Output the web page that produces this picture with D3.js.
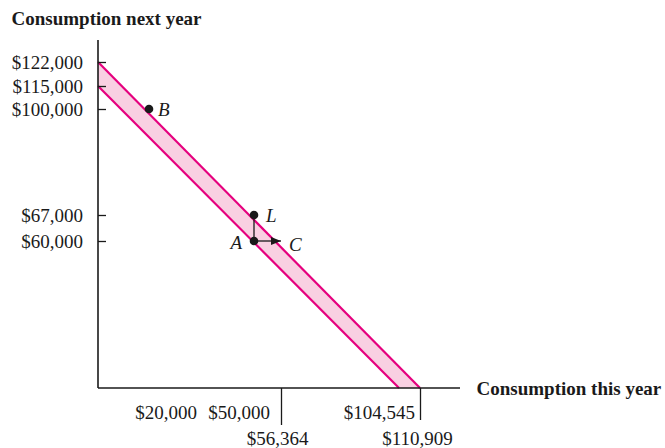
<!DOCTYPE html>
<html><head><meta charset="utf-8">
<script src="https://cdn.jsdelivr.net/npm/d3@7"></script>
<style>
body{margin:0;background:#fff}
text{font-family:"Liberation Serif","Times New Roman",serif;fill:#1a1a1a}
</style>
</head><body><svg id="c" width="665" height="448"></svg>
<script>
// ---- data ----
const xTicks = [20000, 50000, 56364, 104545, 110909];
const yTicks = [60000, 67000, 100000, 115000, 122000];
const upperLine = [[0, 122000], [110909, 0]];
const lowerLine = [[0, 115000], [104545, 0]];
const points = [
  {name: "B", x: 20000, y: 100000},
  {name: "L", x: 50000, y: 67000},
  {name: "A", x: 50000, y: 60000}
];
const arrowC = {name: "C", from: [50000, 60000], to: [56364, 60000]};
const xTitle = "Consumption this year";
const yTitle = "Consumption next year";
const fmt = d => "$" + d3.format(",")(d);

// ---- scales (schematic figure: piecewise linear) ----
const xDom = [0, 20000, 50000, 56364, 104545, 110909];
const x = d3.scaleLinear().domain(xDom).range([98, 149, 254, 281, 399, 420]);
const xAxisScale = d3.scaleLinear().domain(xDom).range([98, 174, 244, 281, 399, 420]);
const y = d3.scaleLinear().domain([0, 60000, 67000, 100000, 115000, 122000])
  .range([388, 241, 215, 109, 86, 62]);

const svg = d3.select("#c");
const FS = 19;
const ink = "#1a1a1a";
const pink = "#e5007e", pinkFill = "#f9d0e2";

// band
const band = upperLine.concat(lowerLine.slice().reverse());
svg.append("path")
  .attr("d", "M" + band.map(d => [x(d[0]), y(d[1])].join(",")).join("L") + "Z")
  .attr("fill", pinkFill).attr("stroke", "none");
const line = d3.line().x(d => x(d[0])).y(d => y(d[1]));
[upperLine, lowerLine].forEach(l => svg.append("path").attr("d", line(l))
  .attr("stroke", pink).attr("stroke-width", 2.2).attr("fill", "none"));

// axes lines
const x0 = xAxisScale(0), y0 = y(0);
svg.append("line").attr("x1", x0).attr("x2", x0).attr("y1", 40).attr("y2", y0)
  .attr("stroke", ink).attr("stroke-width", 1.6);
svg.append("line").attr("x1", x0).attr("x2", 460).attr("y1", y0).attr("y2", y0)
  .attr("stroke", ink).attr("stroke-width", 1.6);

// y axis ticks
const yAxis = d3.axisLeft(y).tickValues(yTicks).tickFormat(fmt).tickSize(-8).tickPadding(15);
const gy = svg.append("g").attr("transform", `translate(${x0},0)`).call(yAxis);
gy.select(".domain").remove();
gy.selectAll(".tick line").attr("stroke", ink).attr("stroke-width", 1.3);
gy.selectAll(".tick text").attr("font-size", FS).attr("font-family", "Liberation Serif").attr("fill", ink);

// x axis ticks
const xAxis = d3.axisBottom(xAxisScale).tickValues(xTicks).tickFormat("").tickSize(-8);
const gx = svg.append("g").attr("transform", `translate(0,${y0})`).call(xAxis);
gx.select(".domain").remove();
gx.selectAll(".tick line").attr("stroke", ink).attr("stroke-width", 1.3)
  .attr("y2", d => d === 56364 ? 37 : d === 110909 ? 32 : 0);

// x tick labels
const xLab = svg.append("g").attr("font-size", FS);
xTicks.forEach(d => {
  const row2 = (d === 56364 || d === 110909);
  let px = xAxisScale(d), anchor = "middle";
  if (d === 20000) px -= 8;
  if (d === 50000) px -= 5;
  if (d === 56364) px -= 3.5;
  if (d === 110909) px -= 2.5;
  if (d === 104545) { px = xAxisScale(110909) - 5; anchor = "end"; }
  xLab.append("text").attr("x", px).attr("y", row2 ? 445 : 418.5)
    .attr("text-anchor", anchor).text(fmt(d));
});

// vertical segment A->L and arrow A->C
svg.append("defs").append("marker").attr("id", "ah").attr("viewBox", "0 0 10 10")
  .attr("refX", 10).attr("refY", 5).attr("markerWidth", 10).attr("markerHeight", 10)
  .attr("markerUnits", "userSpaceOnUse").attr("orient", "auto")
  .append("path").attr("d", "M0,1L10,5L0,9Z").attr("fill", ink);
const A = points.find(p => p.name === "A"), L = points.find(p => p.name === "L");
svg.append("line").attr("x1", x(A.x)).attr("y1", y(A.y)).attr("x2", x(L.x)).attr("y2", y(L.y))
  .attr("stroke", ink).attr("stroke-width", 1.3);
svg.append("line").attr("x1", x(arrowC.from[0])).attr("y1", y(arrowC.from[1]))
  .attr("x2", x(arrowC.to[0])).attr("y2", y(arrowC.to[1]))
  .attr("stroke", ink).attr("stroke-width", 1.3).attr("marker-end", "url(#ah)");

// points
svg.selectAll("circle.pt").data(points).enter().append("circle")
  .attr("cx", d => x(d.x)).attr("cy", d => y(d.y)).attr("r", 4.3).attr("fill", ink);

// point labels
const labPos = {B: [9, 0, "start"], L: [12, 0, "start"], A: [-12, 1, "end"]};
points.forEach(p => {
  const o = labPos[p.name];
  svg.append("text").attr("x", x(p.x) + o[0]).attr("y", y(p.y) + o[1]).attr("dy", "0.35em")
    .attr("text-anchor", o[2]).attr("font-size", FS).attr("font-style", "italic").text(p.name);
});
svg.append("text").attr("x", x(arrowC.to[0]) + 8).attr("y", y(arrowC.to[1]) + 3).attr("dy", "0.35em")
  .attr("font-size", FS).attr("font-style", "italic").text(arrowC.name);

// titles
svg.append("text").attr("x", 11.5).attr("y", 25).attr("font-size", FS).attr("font-weight", "bold").text(yTitle);
svg.append("text").attr("x", 476.5).attr("y", 395).attr("font-size", FS).attr("font-weight", "bold").text(xTitle);
</script>
</body></html>
